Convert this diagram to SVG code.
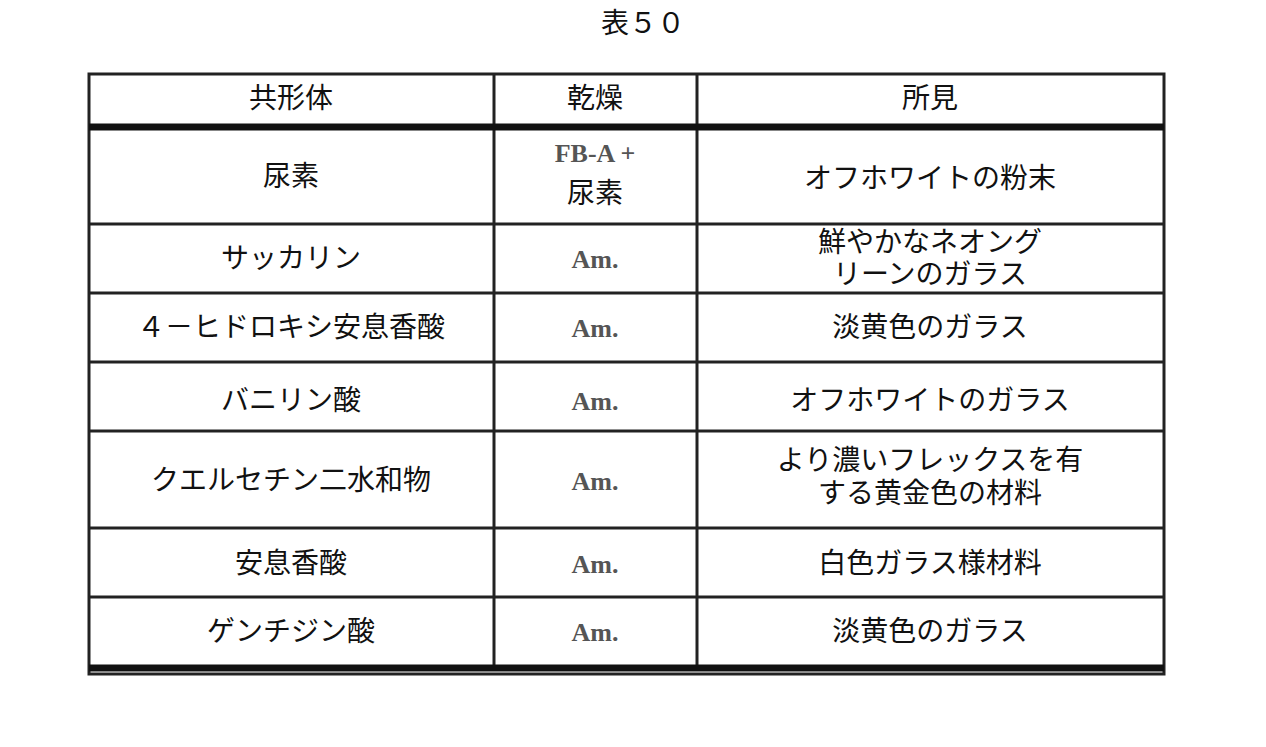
<svg xmlns="http://www.w3.org/2000/svg" width="1266" height="747" viewBox="0 0 1266 747">
<style>
text{font-family:"Liberation Serif","Noto Sans CJK JP",serif;font-size:28px;fill:#111;text-anchor:middle}
.am{font-size:26px;font-weight:bold;fill:#555}
.ln{stroke:#222;stroke-width:3;fill:none}
.thick{stroke:#111;stroke-width:7;fill:none}
</style>
<rect width="1266" height="747" fill="#fff"/>
<text x="643" y="33">表５０</text>
<g id="grid">
<rect class="ln" x="89" y="74" width="1075" height="600"/>
<line class="ln" x1="494" y1="74" x2="494" y2="668"/>
<line class="ln" x1="697" y1="74" x2="697" y2="668"/>
<line class="thick" x1="89" y1="127" x2="1164" y2="127"/>
<line class="ln" x1="89" y1="224" x2="1164" y2="224"/>
<line class="ln" x1="89" y1="293" x2="1164" y2="293"/>
<line class="ln" x1="89" y1="362" x2="1164" y2="362"/>
<line class="ln" x1="89" y1="431" x2="1164" y2="431"/>
<line class="ln" x1="89" y1="528" x2="1164" y2="528"/>
<line class="ln" x1="89" y1="597" x2="1164" y2="597"/>
<line class="thick" x1="89" y1="668" x2="1164" y2="668"/>
</g>
<g id="header"><text x="291" y="108">共形体</text><text x="595" y="108">乾燥</text><text x="930" y="108">所見</text></g>
<g id="r1"><text x="291" y="186">尿素</text><text class="am" x="595" y="162">FB-A +</text><text x="595" y="203">尿素</text><text x="930" y="188">オフホワイトの粉末</text></g>
<g id="r2"><text x="291" y="268">サッカリン</text><text class="am" x="595" y="268">Am.</text><text x="930" y="252">鮮やかなネオング</text><text x="930" y="284">リーンのガラス</text></g>
<g id="r3"><text x="291" y="337">４－ヒドロキシ安息香酸</text><text class="am" x="595" y="337">Am.</text><text x="930" y="337">淡黄色のガラス</text></g>
<g id="r4"><text x="291" y="410">バニリン酸</text><text class="am" x="595" y="410">Am.</text><text x="930" y="410">オフホワイトのガラス</text></g>
<g id="r5"><text x="291" y="490">クエルセチン二水和物</text><text class="am" x="595" y="490">Am.</text><text x="930" y="470">より濃いフレックスを有</text><text x="930" y="503">する黄金色の材料</text></g>
<g id="r6"><text x="291" y="573">安息香酸</text><text class="am" x="595" y="573">Am.</text><text x="930" y="573">白色ガラス様材料</text></g>
<g id="r7"><text x="291" y="641">ゲンチジン酸</text><text class="am" x="595" y="641">Am.</text><text x="930" y="641">淡黄色のガラス</text></g>
</svg>
